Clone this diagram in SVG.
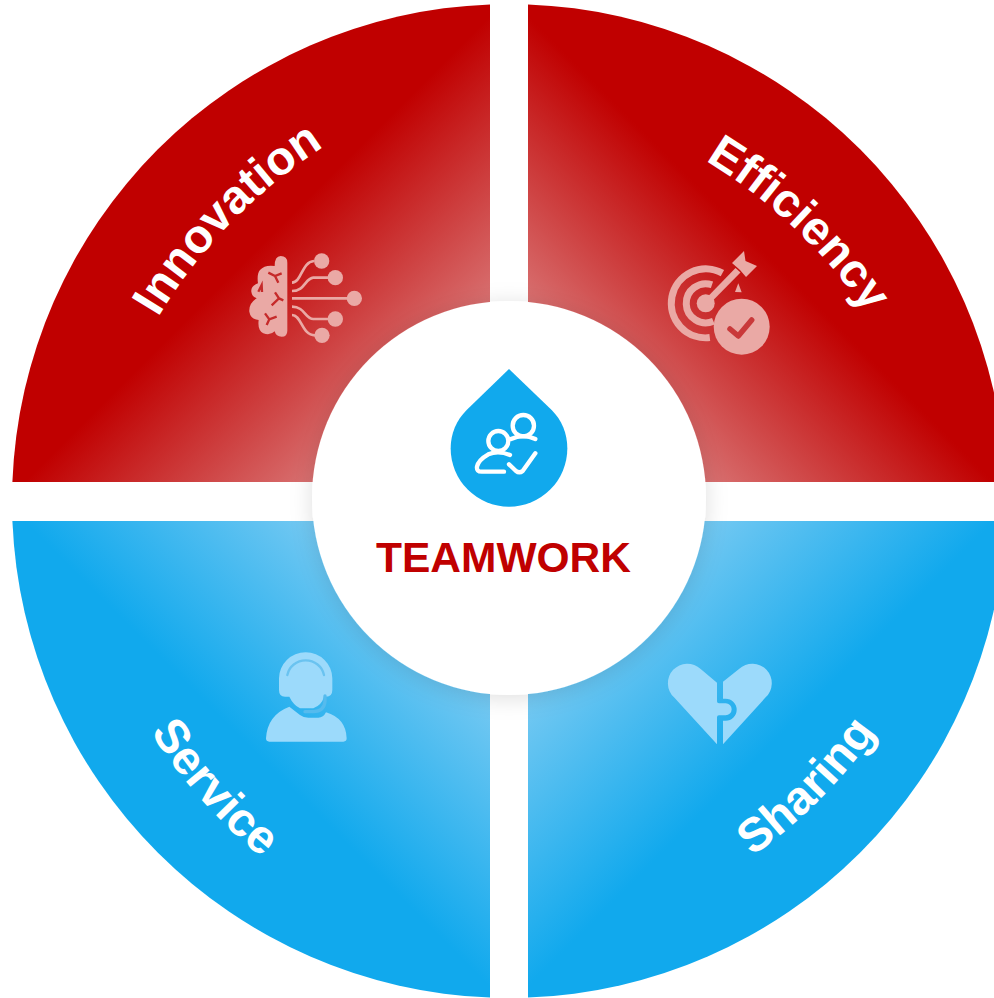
<svg xmlns="http://www.w3.org/2000/svg" width="994" height="998" viewBox="0 0 994 998">
<style>
.lbl{font-family:"Liberation Sans",Arial,sans-serif;font-weight:700;font-size:47.500px;fill:#fff;text-anchor:middle}
.ttl{font-family:"Liberation Sans",Arial,sans-serif;font-weight:700;font-size:42.500px;fill:#c00000;text-anchor:middle}
.ir{fill:#eaa9a5}.ib{fill:#9cdafb}
.wl{fill:none;stroke:#fff;stroke-width:13;stroke-linecap:round;stroke-linejoin:round}
.rl{fill:none;stroke:#eaa9a5;stroke-width:8}
.rv{fill:none;stroke:#c62a2a;stroke-width:7}
</style>
<defs>
<linearGradient id="gTL" gradientUnits="userSpaceOnUse" x1="490" y1="482" x2="257" y2="249"><stop offset="0" stop-color="#e7b7b7"/><stop offset="1" stop-color="#c00000"/></linearGradient>
<linearGradient id="gTR" gradientUnits="userSpaceOnUse" x1="528" y1="482" x2="761" y2="249"><stop offset="0" stop-color="#e7b7b7"/><stop offset="1" stop-color="#c00000"/></linearGradient>
<linearGradient id="gBL" gradientUnits="userSpaceOnUse" x1="490" y1="521" x2="257" y2="754"><stop offset="0" stop-color="#b1dcf5"/><stop offset="1" stop-color="#11a9ed"/></linearGradient>
<linearGradient id="gBR" gradientUnits="userSpaceOnUse" x1="528" y1="521" x2="761" y2="754"><stop offset="0" stop-color="#b1dcf5"/><stop offset="1" stop-color="#11a9ed"/></linearGradient>
<filter id="sh" x="-20%" y="-20%" width="140%" height="140%"><feDropShadow dx="0" dy="3" stdDeviation="11" flood-color="#000" flood-opacity=".13"/></filter>
<path id="pI" d="M90.700 501.900A520 520 0 0 1 506.600 74.200"/>
<path id="pE" d="M513 91.600A520 520 0 0 1 946.400 501.400"/>
<path id="pS" d="M73.700 511.900A520 520 0 0 0 467.400 960"/>
<path id="pH" d="M542.100 943.900A520 520 0 0 0 964 522"/>
</defs>
<rect width="994" height="998" fill="#fff"/>
<g id="innovation">
<path d="M490 482H12.400A497 497 0 0 1 490 4.400Z" fill="url(#gTL)"/>
<g transform="translate(230 230) scale(.33333)">
<path class="ir" d="M172 98Q172 78 152 78Q134 78 134 108Q104 104 90 120Q80 132 84 160Q62 168 64 185Q66 200 80 205Q56 220 58 245Q62 268 86 270Q82 300 100 310Q120 318 134 304Q138 320 155 320Q172 320 172 302Z"/>
<path class="rv" d="M115 128L135 138L155 130M135 138L145 158M85 185L95 165L96 186M135 187L147 205L125 226M147 205L160 211M105 250L118 268L140 260M118 268L110 285"/>
<path class="rl" d="M186 158C215 158 215 95 252 93M186 183C225 183 225 145 250 143H295M186 205H355M186 230C225 230 225 267 250 267H295M186 255C215 255 215 316 255 316"/>
<g class="ir"><circle cx="275" cy="93" r="23"/><circle cx="316" cy="143" r="23"/><circle cx="373" cy="205" r="23"/><circle cx="316" cy="267" r="23"/><circle cx="276" cy="316" r="23"/></g>
</g>
<text class="lbl"><textPath href="#pI" startOffset="50%">Innovation</textPath></text>
</g>
<g id="efficiency">
<path d="M528 482H1005.600A497 497 0 0 0 528 4.400Z" fill="url(#gTR)"/>
<path d="M722.400 273.100A34.500 34.500 0 1 0 709.800 337.600M712 284.800A19.500 19.500 0 1 0 713.400 321.200" fill="none" stroke="#eaa9a5" stroke-width="7"/>
<g class="ir">
<circle cx="705.700" cy="303.300" r="9"/>
<path d="M703.500 301L735.500 268L740.500 272.500L708 305.500Z"/>
<path d="M732 263L744 251L745.500 261L757 266L746 277L740 270Z"/>
<path d="M735 292L738.300 283.300L741.700 292.300Z"/>
<circle cx="741.700" cy="326.700" r="28"/>
</g>
<path d="M730 329L738.300 336L751.700 320" fill="none" stroke="#c9393a" stroke-width="5.500" stroke-linecap="round" stroke-linejoin="round"/>
<text class="lbl"><textPath href="#pE" startOffset="50%">Efficiency</textPath></text>
</g>
<g id="service">
<path d="M490 521H12.400A497 497 0 0 0 490 997.600Z" fill="url(#gBL)"/>
<g transform="translate(250 640) scale(.33333)">
<g class="ib">
<path d="M87 115A80 78 0 0 1 247 115V150Q247 170 228 170H222Q215 195 190 205H150Q130 195 118 170H105Q87 170 87 150Z"/>
<path d="M48 295Q52 225 118 200L150 225Q160 233 175 233H205Q220 233 228 217Q288 235 290 295Q290 305 280 305H58Q48 305 48 295Z"/>
</g>
<path d="M112 105A56 54 0 0 1 222 105" fill="none" stroke="#6ac3f0" stroke-width="7" stroke-linecap="round"/>
<path d="M225 168V185Q222 214 190 215H165" fill="none" stroke="#55bbee" stroke-width="10" stroke-linecap="round"/>
</g>
<text class="lbl"><textPath href="#pS" startOffset="50.300%">Service</textPath></text>
</g>
<g id="sharing">
<path d="M528 521H1005.600A497 497 0 0 1 528 997.600Z" fill="url(#gBR)"/>
<g class="ib" transform="translate(655 650) scale(.33333)">
<path d="M186 98L137 57A57 57 0 0 0 57 142L186 283V202Q186 196 192 196H212A18 18 0 0 0 212 160H192Q186 160 186 154Z"/>
<path d="M204 95L252 57A57 57 0 0 1 332 142L204 283V212H212A33 33 0 0 0 212 146H204Z"/>
</g>
<text class="lbl"><textPath href="#pH" startOffset="50%">Sharing</textPath></text>
</g>
<g id="teamwork">
<circle cx="509" cy="498" r="197" fill="#fff" filter="url(#sh)"/>
<g transform="translate(430 355) scale(.33333)">
<path d="M237 42L365 165C395 195 412 235 412 280A175 175 0 0 1 62 280C62 235 80 195 110 165Z" fill="#11a9ed"/>
<g class="wl">
<circle cx="205" cy="258" r="30"/>
<circle cx="280" cy="212" r="32"/>
<path d="M240 300Q205 285 175 298Q145 315 141 335Q139 350 155 350H222M243 252Q280 235 316 252M237 328L258 348Q268 356 278 348L316 295"/>
</g>
</g>
<text class="ttl" x="503.500" y="572">TEAMWORK</text>
</g>
<g id="connectors"/>
</svg>
